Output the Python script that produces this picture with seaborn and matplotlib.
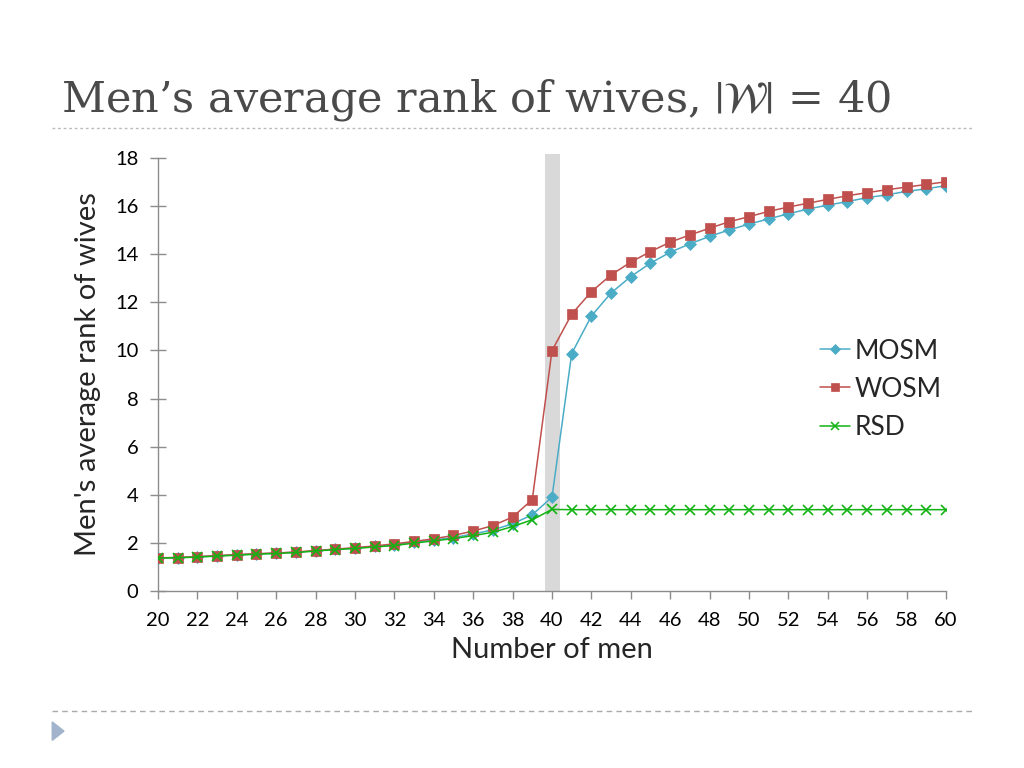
import numpy as np
import pandas as pd
import matplotlib
matplotlib.use("Agg")
import matplotlib.pyplot as plt
from matplotlib.lines import Line2D
from matplotlib.patches import Polygon
import seaborn as sns

# data
men = list(range(20, 61))
mosm = [1.37, 1.39, 1.42, 1.46, 1.50, 1.54, 1.57, 1.61, 1.67, 1.73, 1.78,
        1.85, 1.92, 2.03, 2.12, 2.22, 2.37, 2.54, 2.79, 3.17, 3.90,
        9.87, 11.43, 12.39, 13.07, 13.63, 14.08, 14.43, 14.74, 15.01, 15.25,
        15.47, 15.68, 15.88, 16.04, 16.19, 16.35, 16.47, 16.61, 16.72, 16.85]
wosm = [1.38, 1.39, 1.43, 1.47, 1.51, 1.55, 1.58, 1.62, 1.68, 1.74, 1.80,
        1.87, 1.96, 2.06, 2.17, 2.31, 2.49, 2.72, 3.07, 3.80, 9.99,
        11.51, 12.44, 13.14, 13.67, 14.11, 14.50, 14.80, 15.08, 15.35, 15.56,
        15.78, 15.96, 16.12, 16.28, 16.43, 16.56, 16.68, 16.79, 16.90, 17.01]
rsd = [1.37, 1.38, 1.41, 1.45, 1.49, 1.53, 1.56, 1.60, 1.66, 1.72, 1.77,
       1.83, 1.89, 1.99, 2.08, 2.18, 2.30, 2.44, 2.68, 2.96, 3.39] + [3.38] * 20
series = ["MOSM", "WOSM", "RSD"]
colors = {"MOSM": "#4bacc6", "WOSM": "#c0504d", "RSD": "#12b312"}
markers = {"MOSM": "D", "WOSM": "s", "RSD": "x"}
msizes = {"MOSM": 6, "WOSM": 7, "RSD": 7}

df = pd.DataFrame({"men": men * 3,
                   "rank": mosm + wosm + rsd,
                   "alg": sum([[s] * len(men) for s in series], [])})

sns.set_style("white")
plt.rcParams["font.family"] = ["Lato", "DejaVu Sans"]
plt.rcParams["mathtext.fontset"] = "stix"

fig = plt.figure(figsize=(10.24, 7.68), dpi=100)
ax = fig.add_axes([0.1543, 0.2305, 0.7695, 0.5638])

# shaded band at |W| = 40
ax.axvspan(39.65, 40.4, ymin=0, ymax=1.01, color="#d9d9d9", lw=0, zorder=0, clip_on=False)

for s in series:
    sub = df[df["alg"] == s]
    sns.lineplot(data=sub, x="men", y="rank", ax=ax, color=colors[s], lw=1.1,
                 marker=markers[s], markersize=msizes[s], markeredgecolor=colors[s],
                 markeredgewidth=1.2 if s == "RSD" else 0.5, label=s, zorder=3)

ax.set_xlim(20, 60)
ax.set_ylim(0, 18)
ax.set_xticks(range(20, 61, 2))
ax.set_yticks(range(0, 19, 2))
ax.tick_params(left=True, bottom=True)
ax.tick_params(axis="both", labelsize=14.5, colors="#8c8c8c", labelcolor="black")
ax.tick_params(axis="y", direction="inout", length=12, width=1, pad=8)
ax.tick_params(axis="x", direction="out", length=6, width=1, pad=9)
for sp in ["top", "right"]:
    ax.spines[sp].set_visible(False)
for sp in ["left", "bottom"]:
    ax.spines[sp].set_color("#8c8c8c")
    ax.spines[sp].set_linewidth(1)

ax.set_xlabel("Number of men", fontsize=21, labelpad=6)
ax.set_ylabel("Men's average rank of wives", fontsize=21, labelpad=10)

handles = [Line2D([], [], color=colors[s], lw=1.1, marker=markers[s],
                  markersize=msizes[s] - 1,
                  markeredgewidth=1.1 if s == "RSD" else 0.5) for s in series]
ax.legend(handles, series, loc="center left", bbox_to_anchor=(0.84, 0.466), frameon=False,
          fontsize=19, handlelength=1.15, handletextpad=0.15, labelspacing=0.5,
          borderpad=0, borderaxespad=0)

# slide decorations
fig.text(0.06, 0.87, r"Men’s average rank of wives, $\left|\mathcal{W}\right|$ = 40",
         fontsize=31, color="#4a4a4a", family=["DejaVu Serif"], va="center")
fig.add_artist(Line2D([0.051, 0.949], [0.833, 0.833], color="#bbbbbb", lw=1,
                      ls=(0, (2, 2)), transform=fig.transFigure))
fig.add_artist(Line2D([0.051, 0.949], [0.074, 0.074], color="#aaaaaa", lw=1,
                      ls=(0, (4, 3)), transform=fig.transFigure))
fig.add_artist(Polygon([[0.051, 0.060], [0.051, 0.036], [0.0625, 0.048]], closed=True,
                       color="#a2b4cb", transform=fig.transFigure))

fig.savefig("out.png", dpi=100)
